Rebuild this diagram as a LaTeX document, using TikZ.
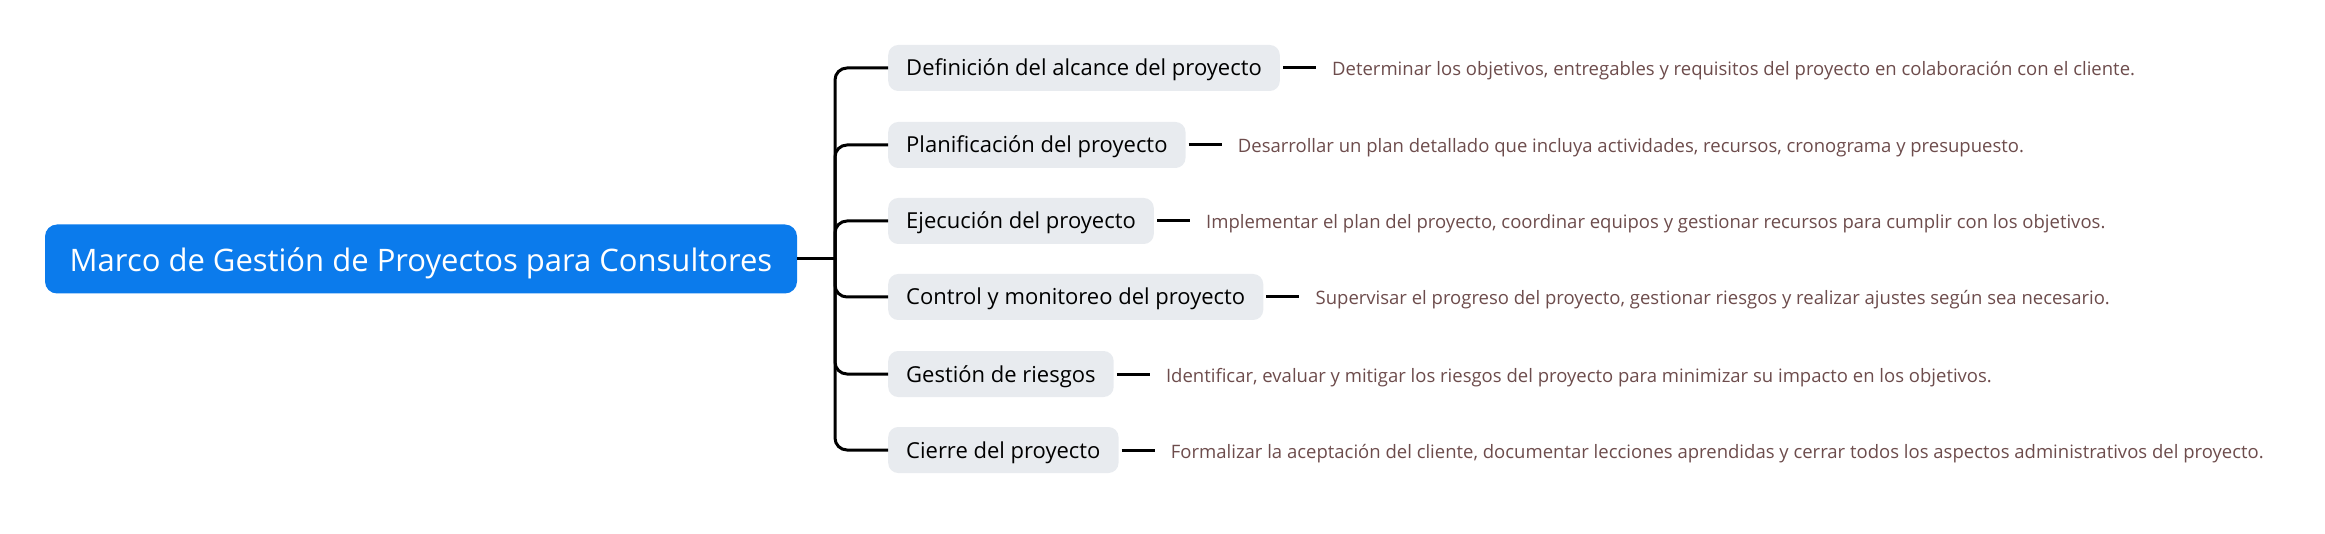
\documentclass[tikz,border=0pt]{standalone}
\usepackage{fontspec}
\setmainfont{Open Sans}
\usetikzlibrary{positioning}
\definecolor{rootblue}{HTML}{0B7BEC}
\definecolor{childgray}{HTML}{E8EBEF}
\definecolor{desctext}{HTML}{6D4C4C}
\tikzset{
  rootbox/.style={fill=rootblue, text=white, rounded corners=12pt, minimum width=752pt, minimum height=69pt, inner sep=0pt, text height=32pt, text depth=7pt, font=\fontsize{31}{36}\selectfont},
  childbox/.style={fill=childgray, text=black, rounded corners=10pt, minimum height=46pt, inner xsep=18pt, inner ysep=0pt, text height=21pt, text depth=5pt, anchor=west, font=\fontsize{22}{26}\selectfont},
  desc/.style={text=desctext, inner xsep=16pt, inner ysep=0pt, text height=20pt, text depth=4pt, anchor=west, font=\fontsize{18.5}{22}\selectfont},
  conn/.style={line width=3pt, draw=black},
}
\begin{document}
\begin{tikzpicture}[x=1pt,y=-1pt]
\useasboundingbox (0,0) rectangle (2325,534);
\node[rootbox] (root) at (421,259) {Marco de Gestión de Proyectos para Consultores};
\coordinate (trunk) at (835,259);
\node[childbox] (c1) at (888,68) {Definición del alcance del proyecto};
\node[childbox] (c2) at (888,145) {Planificación del proyecto};
\node[childbox] (c3) at (888,221) {Ejecución del proyecto};
\node[childbox] (c4) at (888,297) {Control y monitoreo del proyecto};
\node[childbox] (c5) at (888,374) {Gestión de riesgos};
\node[childbox] (c6) at (888,450) {Cierre del proyecto};
\node[desc, right=36pt of c1] (d1) {Determinar los objetivos, entregables y requisitos del proyecto en colaboración con el cliente.};
\node[desc, right=36pt of c2] (d2) {Desarrollar un plan detallado que incluya actividades, recursos, cronograma y presupuesto.};
\node[desc, right=36pt of c3] (d3) {Implementar el plan del proyecto, coordinar equipos y gestionar recursos para cumplir con los objetivos.};
\node[desc, right=36pt of c4] (d4) {Supervisar el progreso del proyecto, gestionar riesgos y realizar ajustes según sea necesario.};
\node[desc, right=36pt of c5] (d5) {Identificar, evaluar y mitigar los riesgos del proyecto para minimizar su impacto en los objetivos.};
\node[desc, right=36pt of c6] (d6) {Formalizar la aceptación del cliente, documentar lecciones aprendidas y cerrar todos los aspectos administrativos del proyecto.};
\draw[conn] (root.east) -- (trunk);
\foreach \c in {c1,c2,c3,c4,c5,c6}{
  \draw[conn, rounded corners=12pt] (trunk) |- (\c.west);
}
\foreach \c/\d in {c1/d1,c2/d2,c3/d3,c4/d4,c5/d5,c6/d6}{
  \draw[conn] ([xshift=3pt]\c.east) -- (\d.west);
}
\end{tikzpicture}
\end{document}
